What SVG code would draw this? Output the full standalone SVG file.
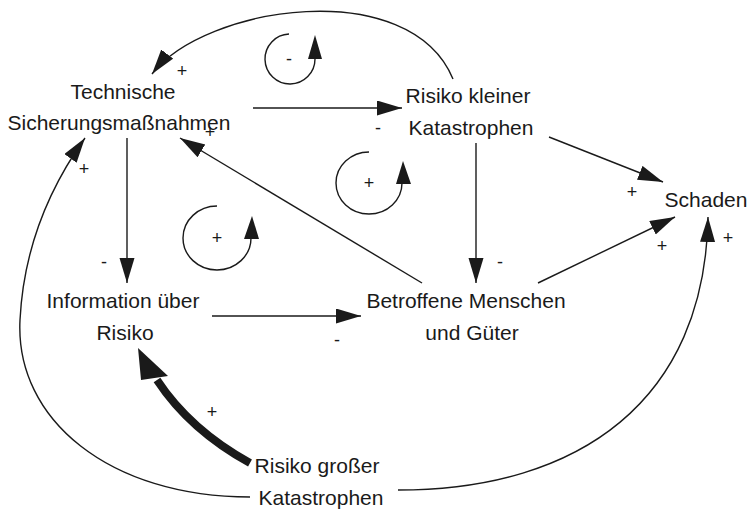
<svg xmlns="http://www.w3.org/2000/svg" width="749" height="511" viewBox="0 0 749 511">
<style>
.n{font-family:"Liberation Sans",Arial,sans-serif;font-size:21px;fill:#1a1a1a;text-anchor:middle}
.p{font-family:"Liberation Sans",Arial,sans-serif;font-size:18px;fill:#1a1a1a;text-anchor:middle}
.c{fill:none;stroke:#1a1a1a;stroke-width:1.4}
.h{fill:#1a1a1a;stroke:none}
</style>
<defs>
<marker id="ah" markerUnits="userSpaceOnUse" markerWidth="26" markerHeight="16" refX="25" refY="7.5" orient="auto">
<path d="M0,0 L25,7.5 L0,15 z" fill="#1a1a1a"/>
</marker>
</defs>
<rect width="749" height="511" fill="#fff"/>
<g id="connectors">
<path class="c" d="M253,108 L402,108" marker-end="url(#ah)"/>
<path class="c" d="M127,138 L127,283" marker-end="url(#ah)"/>
<path class="c" d="M476,143 L476,283" marker-end="url(#ah)"/>
<path class="c" d="M212,316 L361,316" marker-end="url(#ah)"/>
<path class="c" d="M422,283 L180,138" marker-end="url(#ah)"/>
<path class="c" d="M549,137 L663,182" marker-end="url(#ah)"/>
<path class="c" d="M538,283 L675,217" marker-end="url(#ah)"/>
<path class="c" d="M453,79 C410,-25 205,5 152,74" marker-end="url(#ah)"/>
<path class="c" d="M250,497 C110,497 15,420 20,320 C24,240 55,180 85,138" marker-end="url(#ah)"/>
<path class="c" d="M398,490 C580,490 705,400 708,217" marker-end="url(#ah)"/>
<path d="M250,463 Q190,430 157,380" fill="none" stroke="#1a1a1a" stroke-width="8"/>
<polygon class="h" points="138,348 141,380 168,376"/>
</g>
<g id="loop-top">
<path class="c" d="M289,34 A25,25 0 1 0 315,59"/>
<polygon class="h" points="315,35 308,59 322,59"/>
<text class="p" x="289" y="65">-</text>
</g>
<g id="loop-right">
<path class="c" d="M369,152 A33,31 0 1 0 402,183"/>
<polygon class="h" points="403,161 396,184 411,184"/>
<text class="p" x="369" y="189">+</text>
</g>
<g id="loop-left">
<path class="c" d="M217,206 A34,32 0 1 0 251,238"/>
<polygon class="h" points="252,216 244,239 259,239"/>
<text class="p" x="217" y="244">+</text>
</g>
<g id="node-technische">
<text class="n" x="123" y="99">Technische</text>
<text class="n" x="119" y="130">Sicherungsmaßnahmen</text>
</g>
<g id="node-risiko-kleiner">
<text class="n" x="468" y="103">Risiko kleiner</text>
<text class="n" x="471" y="135">Katastrophen</text>
</g>
<g id="node-schaden">
<text class="n" x="706" y="207">Schaden</text>
</g>
<g id="node-information">
<text class="n" x="123" y="308">Information über</text>
<text class="n" x="125" y="340">Risiko</text>
</g>
<g id="node-betroffene">
<text class="n" x="466" y="308">Betroffene Menschen</text>
<text class="n" x="472" y="340">und Güter</text>
</g>
<g id="node-risiko-gross">
<text class="n" x="317" y="473">Risiko großer</text>
<text class="n" x="321" y="505">Katastrophen</text>
</g>
<g id="polarities">
<text class="p" x="182" y="77">+</text>
<text class="p" x="210" y="138">+</text>
<text class="p" x="84" y="175">+</text>
<text class="p" x="378" y="134">-</text>
<text class="p" x="104" y="268">-</text>
<text class="p" x="337" y="346">-</text>
<text class="p" x="500" y="268">-</text>
<text class="p" x="632" y="198">+</text>
<text class="p" x="662" y="252">+</text>
<text class="p" x="728" y="244">+</text>
<text class="p" x="212" y="418">+</text>
</g>
</svg>
